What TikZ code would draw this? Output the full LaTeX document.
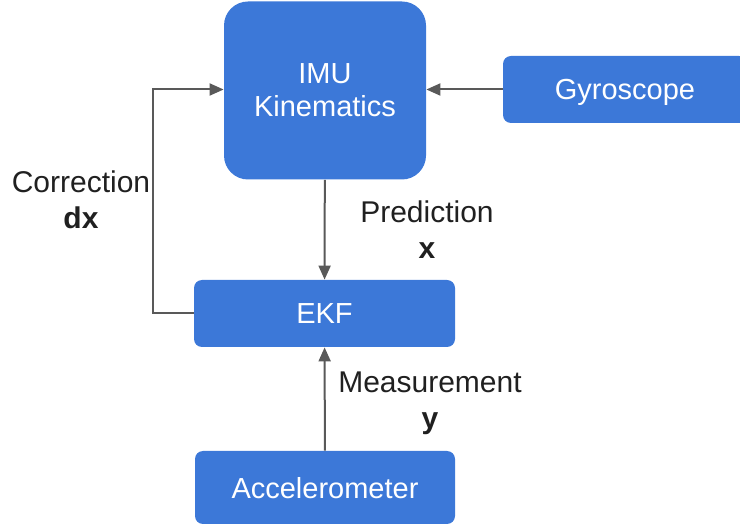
\documentclass[tikz,border=0pt]{standalone}
\usepackage{fontspec}
\setmainfont{Liberation Sans}
\usetikzlibrary{arrows.meta}
\definecolor{boxblue}{HTML}{3C78D8}
\definecolor{linegray}{HTML}{595959}
\definecolor{labelgray}{HTML}{202020}

\begin{document}
\begin{tikzpicture}[x=0.5pt,y=-0.5pt]
			\tikzset{block/.style={fill=boxblue,text=white,inner sep=0pt,align=center,text depth=0pt,
				font=\fontsize{14.5}{16.5}\selectfont}}
			\tikzset{flow/.style={draw=linegray,line width=1pt,-{Triangle[length=7pt,width=6pt]}}}
			\tikzset{tag/.style={text=labelgray,align=center,inner sep=0pt,
				font=\fontsize{15}{18}\selectfont}}
			\useasboundingbox (0,0) rectangle (740,529);
			\node[block,rounded corners=12pt,minimum width=101pt,minimum height=89pt] (imu) at (325,90.5) {IMU\\Kinematics};
			\node[block,rounded corners=4pt,minimum width=122pt,minimum height=33.5pt] (gyro) at (625,89.5) {Gyroscope};
			\node[block,rounded corners=4pt,minimum width=130.5pt,minimum height=33.5pt] (ekf) at (324.5,313.5) {EKF};
			\node[block,rounded corners=4pt,minimum width=130pt,minimum height=36.5pt] (acc) at (325,487.5) {Accelerometer};
			\coordinate (bend) at (153,0);
			\draw[flow] (gyro) -- (imu.east |- gyro.west);
			\draw[flow] (imu) -- (ekf);
			\draw[flow] (acc) -- (ekf);
			\draw[flow] (ekf.west) -| (bend |- gyro.west) -- (imu.west |- gyro.west);
			\node[tag] (corr) at (81,200) {Correction\\\textbf{dx}};
			\node[tag] (pred) at (427,230) {Prediction\\\textbf{x}};
			\node[tag] (meas) at (430,403) {Measurement\\\textbf{y}};
		\end{tikzpicture}
\end{document}
